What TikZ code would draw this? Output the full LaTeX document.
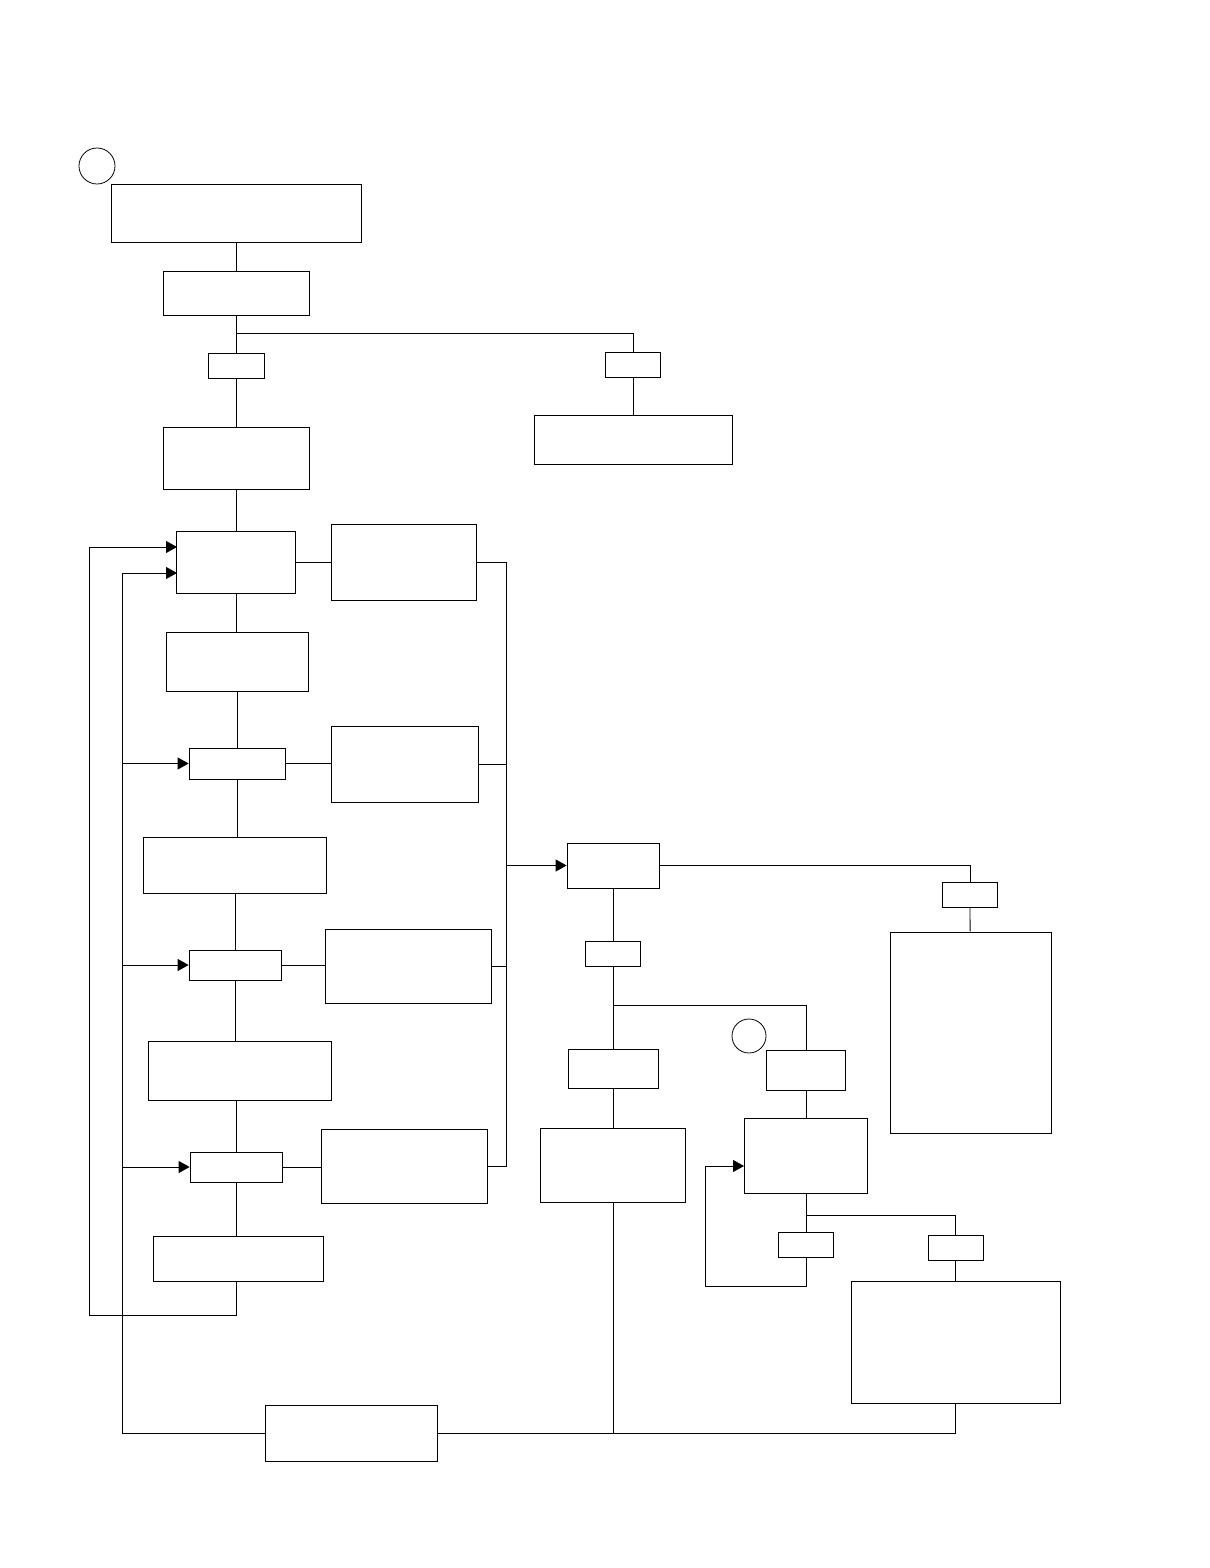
\documentclass[tikz,border=0pt]{standalone}
\usetikzlibrary{arrows.meta}

\begin{document}
\begin{tikzpicture}[
	x=0.2mm, y=-0.2mm,
	line width=0.45pt,
	box/.style = {
		draw, rectangle,
		inner sep=0pt,
	},
	cond/.style = {
		box,
		minimum width=11mm,
		minimum height=5mm,
	},
	ring/.style = {draw, circle, inner sep=0pt},
	>={Triangle[length=2.2mm,width=2.4mm]}
]
\useasboundingbox (0,0) rectangle (1210,1568);

% main column
\node [ring, minimum size=7.2mm] (mA) at (97,166) {};
\node [box, minimum width=50mm, minimum height=11.6mm] (start) at (236,213) {};
\node [box, minimum width=29.2mm, minimum height=8.8mm] (init) at (236,293) {};
\node [cond, minimum width=11.2mm] (yesA) at (236,365.5) {};
\node [cond] (noA) at (633,365) {};
\node [box, minimum width=39.6mm, minimum height=9.8mm] (abort) at (633,439.5) {};
\node [box, minimum width=29.2mm, minimum height=12.4mm] (prep) at (236,458) {};
\node [box, minimum width=23.8mm, minimum height=12.4mm] (loop) at (236,562) {};
\node [box, minimum width=28.4mm, minimum height=11.8mm] (stepA) at (237,661.5) {};
\node [cond, minimum width=19.2mm, minimum height=6.2mm] (chkA) at (237,763.5) {};
\node [box, minimum width=36.6mm, minimum height=11.2mm] (stepB) at (234.5,865) {};
\node [cond, minimum width=18.4mm, minimum height=6mm] (chkB) at (235,965) {};
\node [box, minimum width=36.6mm, minimum height=11.8mm] (stepC) at (239.5,1070.5) {};
\node [cond, minimum width=18.4mm, minimum height=6mm] (chkC) at (236,1167) {};
\node [box, minimum width=34mm, minimum height=9mm] (stepD) at (238,1258.5) {};

% failure boxes
\node [box, minimum width=29mm, minimum height=15.2mm] (errA) at (403.5,562) {};
\node [box, minimum width=29.4mm, minimum height=15.2mm] (errB) at (404.5,764) {};
\node [box, minimum width=33.2mm, minimum height=14.8mm] (errC) at (408,966) {};
\node [box, minimum width=33.2mm, minimum height=14.8mm] (errD) at (404,1166) {};

% right part
\node [box, minimum width=18.4mm, minimum height=9mm] (eval) at (613,865.5) {};
\node [cond] (noB) at (970,894.5) {};
\node [box, minimum width=32.2mm, minimum height=40.2mm] (report) at (970.5,1032.5) {};
\node [cond] (yesB) at (613,953.5) {};
\node [ring, minimum size=6.8mm] (mB) at (749,1036) {};
\node [box, minimum width=18mm, minimum height=7.8mm] (optA) at (613,1068.5) {};
\node [box, minimum width=15.8mm, minimum height=8mm] (optB) at (806,1070) {};
\node [box, minimum width=29mm, minimum height=14.8mm] (fixA) at (613,1165) {};
\node [box, minimum width=24.6mm, minimum height=15mm] (fixB) at (806,1155.5) {};
\node [cond] (noC) at (806,1244.5) {};
\node [cond] (yesC) at (955.5,1247.5) {};
\node [box, minimum width=41.8mm, minimum height=24.4mm] (fixC) at (955.5,1342) {};
\node [box, minimum width=34.4mm, minimum height=11.2mm] (back) at (351,1433) {};

% helper points
\coordinate (jA) at (236,333);
\coordinate (busT) at (506,562);
\coordinate (busB) at (506,1166);
\coordinate (jB) at (613,1005);
\coordinate (jC) at (806,1215);
\coordinate (retC) at (705,1286);
\coordinate (inC) at (744,1166);
\coordinate (retA) at (89,1315);
\coordinate (inA) at (177,547);
\coordinate (retB) at (122,1433);
\coordinate (inB) at (177,573);

% main column connections
\draw (start) -- (init);
\draw (init) -- (yesA);
\draw (jA) -| (noA.north);
\draw (noA) -- (abort);
\draw (yesA) -- (prep);
\draw (prep) -- (loop);
\draw (loop.south) -- (loop.south |- stepA.north);
\draw (stepA) -- (chkA);
\draw (chkA.south) -- (chkA.south |- stepB.north);
\draw (stepB.south -| chkB.north) -- (chkB.north);
\draw (chkB.south) -- (chkB.south |- stepC.north);
\draw (stepC.south -| chkC.north) -- (chkC.north);
\draw (chkC.south) -- (chkC.south |- stepD.north);

% failure branches and bus
\draw (loop.east) -- (errA.west);
\draw (chkA.east) -- (chkA.east -| errB.west);
\draw (chkB.east) -- (chkB.east -| errC.west);
\draw (chkC.east) -- (chkC.east -| errD.west);
\draw (errA.east) -- (busT) -- (busB) -- (errD.east);
\draw (errB.east) -- (errB.east -| busT);
\draw (errC.east) -- (errC.east -| busT);
\draw[->] (busT |- eval.west) -- (eval.west);

% evaluation
\draw (eval.east) -| (noB.north);
\draw (noB) -- (report);
\draw (eval) -- (yesB);
\draw (yesB) -- (optA);
\draw (jB) -| (optB.north);
\draw (optA) -- (fixA);
\draw (optB) -- (fixB);
\draw (fixB.south) -- (noC.north);
\draw (jC) -| (yesC.north);
\draw (yesC) -- (fixC);
\draw[->] (noC.south) |- (retC) |- (inC);

% return paths
\draw (fixA.south) -- (fixA.south |- back.east);
\draw (back.east) -| (fixC.south);
\draw[->] (stepD.south -| chkC.south) |- (retA) |- (inA);
\draw[->] (back.west) -| (retB |- inB) -- (inB);
\draw[->] (retB |- chkA.west) -- (chkA.west);
\draw[->] (retB |- chkB.west) -- (chkB.west);
\draw[->] (retB |- chkC.west) -- (chkC.west);

\end{tikzpicture}
\end{document}
